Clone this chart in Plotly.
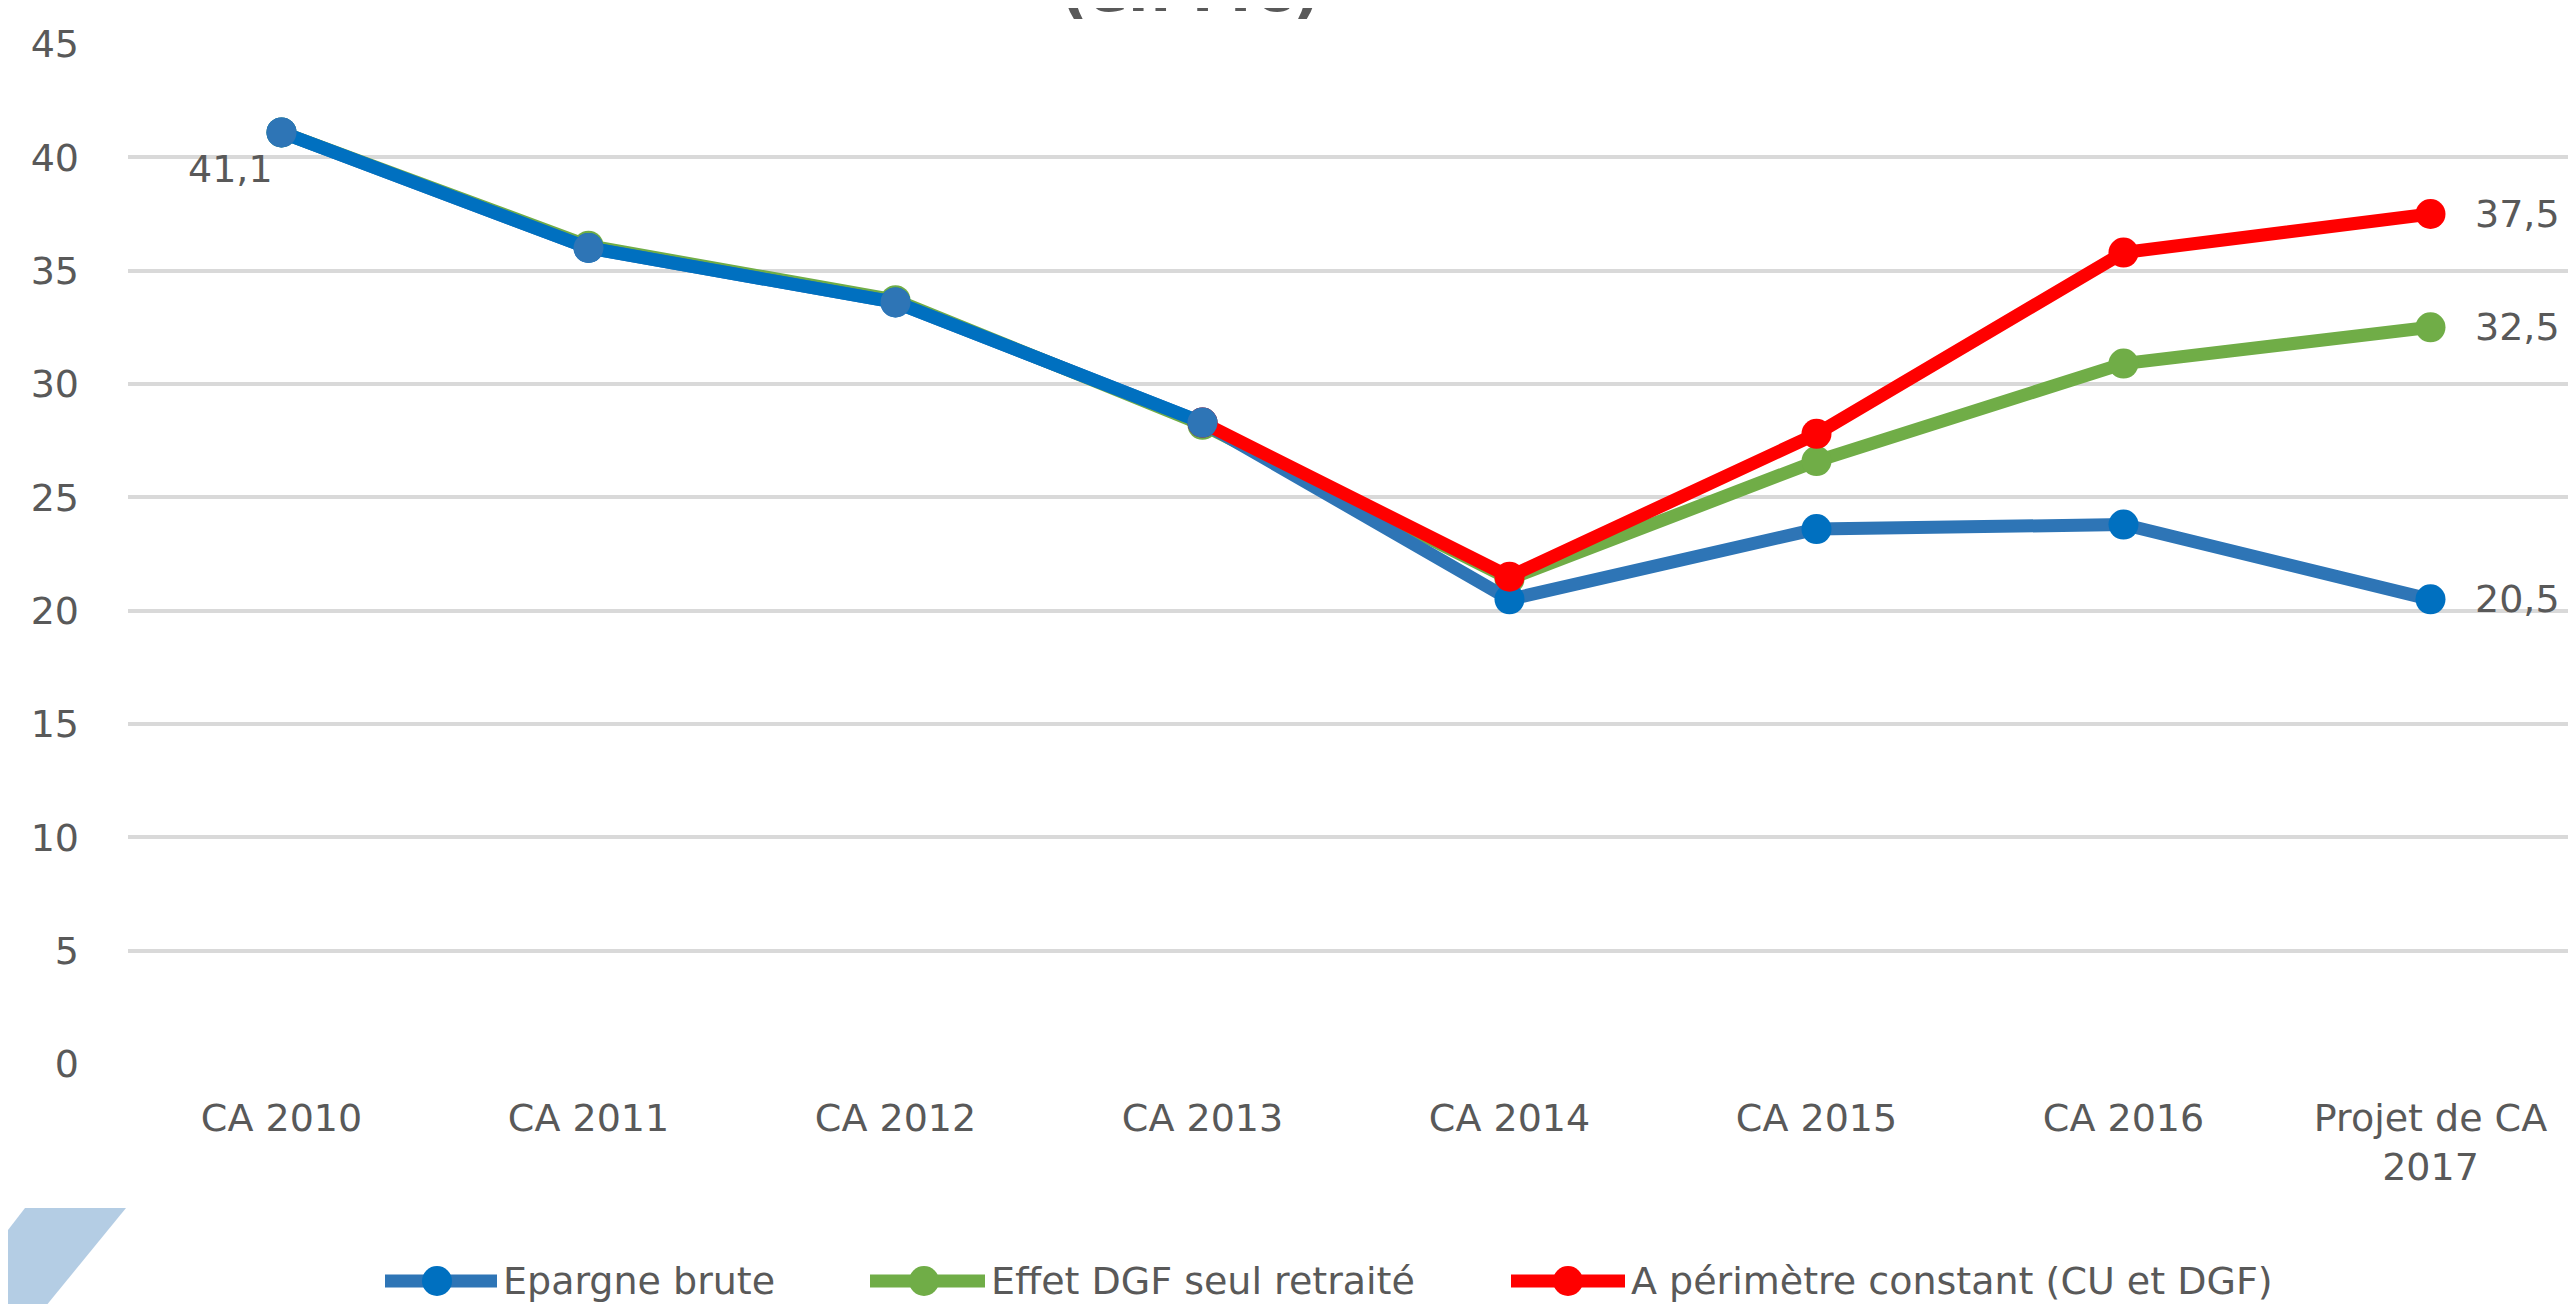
import plotly.graph_objects as go

# ---------------- data ----------------
categories = ["CA 2010", "CA 2011", "CA 2012", "CA 2013", "CA 2014",
              "CA 2015", "CA 2016", "Projet de CA<br>2017"]
epargne_brute = [41.1, 36.0, 33.6, 28.3, 20.5, 23.6, 23.8, 20.5]
effet_dgf = [41.1, 36.1, 33.7, 28.2, 21.4, 26.6, 30.9, 32.5]
perimetre_constant = [None, None, None, 28.3, 21.5, 27.8, 35.8, 37.5]
n_historique = 4  # CA 2010 .. CA 2013 (segment commun)
series_names = ["Epargne brute", "Effet DGF seul retraité", "A périmètre constant (CU et DGF)"]
y_ticks = [0, 5, 10, 15, 20, 25, 30, 35, 40, 45]
title_text = "(en M€)"

# ---------------- layout constants ----------------
W, H = 2576, 1304
ML, MR, MT, MB = 120, 0, 36, 248
PW, PH = W - ML - MR, H - MT - MB
FONT = "DejaVu Sans"
GREY = "#595959"
BLUE_LINE, BLUE_MARK = "#2E75B6", "#0070C0"
GREEN = "#70AD47"
RED = "#FF0000"
LW, MS = 13, 30


def px_x(x):
    return (x - ML) / PW


def px_y(y):
    return (H - MB - y) / PH


def fmt(v):
    return f"{v:.1f}".replace(".", ",")


fig = go.Figure()

fig.add_trace(go.Scatter(x=categories, y=effet_dgf, name=series_names[1], mode="lines+markers",
                         line=dict(color=GREEN, width=LW), marker=dict(color=GREEN, size=MS),
                         showlegend=False, cliponaxis=False))
fig.add_trace(go.Scatter(x=categories, y=epargne_brute, name=series_names[0], mode="lines+markers",
                         line=dict(color=BLUE_LINE, width=LW), marker=dict(color=BLUE_MARK, size=MS),
                         showlegend=False, cliponaxis=False))
fig.add_trace(go.Scatter(x=categories, y=perimetre_constant, name=series_names[2], mode="lines+markers",
                         line=dict(color=RED, width=LW), marker=dict(color=RED, size=MS),
                         showlegend=False, cliponaxis=False))
fig.add_trace(go.Scatter(x=categories[:n_historique], y=epargne_brute[:n_historique],
                         name=series_names[0] + " (historique)", mode="lines+markers",
                         line=dict(color=BLUE_MARK, width=LW), marker=dict(color=BLUE_LINE, size=MS),
                         showlegend=False, cliponaxis=False))

annotations = []
# data labels
annotations.append(dict(x=categories[0], y=epargne_brute[0], xref="x", yref="y",
                        text=fmt(epargne_brute[0]), showarrow=False,
                        xshift=-51, yshift=-37, font=dict(family=FONT, size=38, color=GREY)))
for series in (epargne_brute, effet_dgf, perimetre_constant):
    annotations.append(dict(x=categories[-1], y=series[-1], xref="x", yref="y",
                            text=fmt(series[-1]), showarrow=False, xanchor="left",
                            xshift=42, font=dict(family=FONT, size=38, color=GREY)))

# title (cut off at top)
annotations.append(dict(x=px_x(1182), y=px_y(19), xref="paper", yref="paper",
                        text="<b>" + title_text + "</b>", showarrow=False,
                        xanchor="center", yanchor="bottom",
                        font=dict(family=FONT, size=60, color=GREY)))

shapes = []
# manual legend
legend_items = [
    (series_names[0], BLUE_LINE, BLUE_MARK, 377, 489, 429, 493),
    (series_names[1], GREEN, GREEN, 862, 977, 916, 981),
    (series_names[2], RED, RED, 1503, 1617, 1560, 1621),
]
ly = 1273
for name, lc, mc, x0, x1, xm, xt in legend_items:
    shapes.append(dict(type="line", xref="paper", yref="paper",
                       x0=px_x(x0), x1=px_x(x1), y0=px_y(ly), y1=px_y(ly),
                       line=dict(color=lc, width=13)))
    r = 15
    shapes.append(dict(type="circle", xref="paper", yref="paper",
                       x0=px_x(xm - r), x1=px_x(xm + r), y0=px_y(ly + r), y1=px_y(ly - r),
                       fillcolor=mc, line=dict(color=mc, width=0)))
    annotations.append(dict(x=px_x(xt), y=px_y(ly), xref="paper", yref="paper",
                            text=name, showarrow=False, xanchor="left", yanchor="middle",
                            font=dict(family=FONT, size=38, color=GREY)))

# decorative light-blue shape bottom-left
pts = [(17, 1200), (118, 1200), (33, 1304), (0, 1304), (0, 1222)]
path = "M " + " L ".join(f"{px_x(x)},{px_y(y)}" for x, y in pts) + " Z"
shapes.append(dict(type="path", xref="paper", yref="paper", path=path,
                   fillcolor="#B4CDE4", line=dict(width=0), layer="below"))

fig.update_layout(
    width=W, height=H,
    margin=dict(l=ML, r=MR, t=MT, b=MB, pad=0),
    paper_bgcolor="white", plot_bgcolor="white",
    font=dict(family=FONT, size=38, color=GREY),
    annotations=annotations, shapes=shapes,
    showlegend=False,
)
fig.update_xaxes(type="category", categoryorder="array", categoryarray=categories,
                 showgrid=False, zeroline=False, showline=False, ticks="",
                 ticklabelstandoff=28, tickfont=dict(family=FONT, size=38, color=GREY),
                 range=[-0.5, 7.5])
fig.update_yaxes(range=[0, 45], tickvals=y_ticks, showgrid=True, gridcolor="#D9D9D9",
                 gridwidth=3.5, zeroline=False, showline=False, ticks="",
                 ticklabelstandoff=48, tickfont=dict(family=FONT, size=38, color=GREY))

fig.write_html("out.html")
